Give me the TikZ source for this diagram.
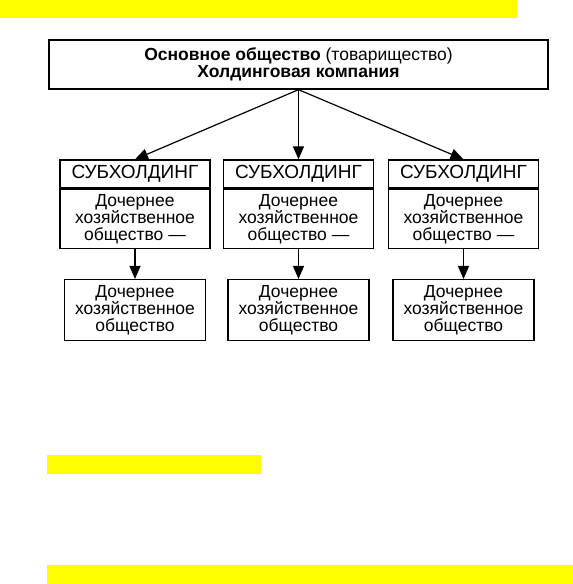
\documentclass[tikz,border=0pt]{standalone}
\usepackage{fontspec}
\setmainfont{Liberation Sans}
\usetikzlibrary{arrows.meta, positioning}
\definecolor{cmark}{HTML}{FFFF00}
\tikzset{
  every picture/.style={line width=1.3pt},
  box/.style={draw, rectangle, align=center, inner sep=1pt, font=\fontsize{17.5}{16.5}\selectfont},
  headbox/.style={box, minimum width=150pt, minimum height=28pt, font=\fontsize{19}{19}\selectfont},
  bodybox/.style={box, minimum width=150pt, minimum height=59pt},
  leafbox/.style={box, minimum width=141pt, minimum height=61pt},
  arrow/.style={-{Triangle[length=13pt, width=11pt]}, line width=1.2pt},
  bar/.style={fill=cmark, draw=none},
}
\begin{document}
\begin{tikzpicture}[x=1pt, y=-1pt]
  \useasboundingbox (0,0) rectangle (573,584);
  % marked strips
  \fill[bar] (0,0) rectangle (517,18);
  \fill[bar] (47,455) rectangle (261,474);
  \fill[bar] (47,565) rectangle (573,584);
  % holding company
  \node[box, minimum width=499pt, minimum height=49pt] (holding) at (298.5,64.5)
    {\textbf{Основное общество} (товарищество)\\\textbf{Холдинговая компания}};
  % sub-holdings and their subsidiaries
  \foreach \i/\x in {1/135, 2/298.5, 3/463.5} {
    \node[headbox] (head\i) at (\x,174) {СУБХОЛДИНГ};
    \node[bodybox, below=0pt of head\i] (body\i) {Дочернее\\хозяйственное\\общество —};
    \node[leafbox, below=30pt of body\i] (leaf\i) {Дочернее\\хозяйственное\\общество};
    \draw[arrow] (holding.south) -- (head\i.north);
    \draw[arrow] (body\i.south) -- (leaf\i.north);
  }
\end{tikzpicture}
\end{document}
